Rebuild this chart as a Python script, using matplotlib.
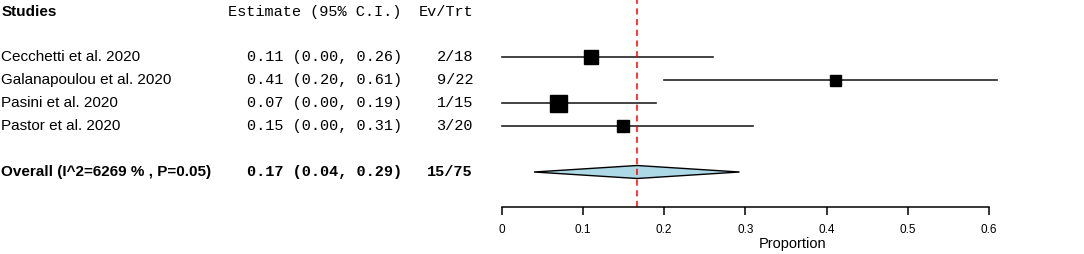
import numpy as np
import matplotlib.pyplot as plt
import matplotlib.transforms as mtransforms
from matplotlib.patches import Polygon

studies = ['Cecchetti et al. 2020', 'Galanapoulou et al. 2020', 'Pasini et al. 2020', 'Pastor et al. 2020']
est = [0.11, 0.41, 0.07, 0.15]
lo = [0.00, 0.20, 0.00, 0.00]
hi = [0.26, 0.61, 0.19, 0.31]
events = [2, 9, 1, 3]
totals = [18, 22, 15, 20]
box_px = [14, 11, 17, 12]   # box size (study weight)

overall_label = 'Overall (I^2=6269 % , P=0.05)'
overall_est = 0.167
overall_lo = 0.04
overall_hi = 0.293
overall_ev = 15
overall_tot = 75

ticks = [0, 0.1, 0.2, 0.3, 0.4, 0.5, 0.6]

W, H = 1084, 254
fig = plt.figure(figsize=(W / 100, H / 100), dpi=100)

# plot area: x=0 at 501.5px, 0.1 per 81.25px; axis line at 207px from top
x0_px, ppu = 501.5, 812.5
axis_px = 207
ax = fig.add_axes([x0_px / W, (H - axis_px) / H, (W - x0_px) / W, axis_px / H])
ax.set_xlim(0, (W - x0_px) / ppu)
ax.set_ylim(axis_px, 0)

row_y = [57, 80, 103, 126]
over_y = 172
head_y = 12

for sp in ['top', 'right', 'left']:
    ax.spines[sp].set_visible(False)
ax.spines['bottom'].set_bounds(0, 0.6)
ax.spines['bottom'].set_linewidth(1.1)
ax.set_yticks([])
ax.set_xticks(ticks)
ax.set_xticklabels(['0' if t == 0 else f'{t:g}' for t in ticks], fontsize=8.5, family='Liberation Sans')
ax.tick_params(axis='x', direction='out', length=6, width=1.1, pad=6)
ax.set_xlabel('Proportion', fontsize=10.5, family='Liberation Sans', labelpad=1)

# CI lines and boxes
for i in range(len(studies)):
    ax.plot([lo[i], hi[i]], [row_y[i], row_y[i]], color='#222222', lw=1.2, clip_on=False)
    ax.plot(est[i], row_y[i], marker='s', color='black', markersize=box_px[i] * 0.72, clip_on=False)

# overall diamond
dh = 6.5
diamond = Polygon([[overall_lo, over_y], [overall_est, over_y - dh], [overall_hi, over_y], [overall_est, over_y + dh]],
                  closed=True, facecolor='#add8e6', edgecolor='black', lw=1)
ax.add_patch(diamond)

ax.axvline(overall_est, color='red', ls=(0, (4, 3)), lw=1.1)

# text columns
tr = mtransforms.blended_transform_factory(fig.transFigure, ax.transData)
sans = 'Liberation Sans'
mono = 'Liberation Mono'
ax.text(2 / W, head_y, 'Studies', transform=tr, fontsize=11, family=sans, weight='bold', va='center', clip_on=False)
ax.text(228 / W, head_y, 'Estimate (95% C.I.)', transform=tr, fontsize=11, family=mono, va='center', clip_on=False)
ax.text(419 / W, head_y, 'Ev/Trt', transform=tr, fontsize=11, family=mono, va='center', clip_on=False)

for i in range(len(studies)):
    ax.text(1 / W, row_y[i], studies[i], transform=tr, fontsize=11, family=sans, va='center', clip_on=False)
    ax.text(402 / W, row_y[i], f'{est[i]:.2f} ({lo[i]:.2f}, {hi[i]:.2f})', transform=tr, fontsize=11,
            family=mono, ha='right', va='center', clip_on=False)
    ax.text(473 / W, row_y[i], f'{events[i]}/{totals[i]}', transform=tr, fontsize=11,
            family=mono, ha='right', va='center', clip_on=False)

ax.text(1 / W, over_y, overall_label, transform=tr, fontsize=11, family=sans, weight='bold', va='center', clip_on=False)
ax.text(402 / W, over_y, f'{overall_est:.2f} ({overall_lo:.2f}, {overall_hi:.2f})', transform=tr, fontsize=11,
        family=mono, weight='bold', ha='right', va='center', clip_on=False)
ax.text(473 / W, over_y, f'{overall_ev}/{overall_tot}', transform=tr, fontsize=11,
        family=mono, weight='bold', ha='right', va='center', clip_on=False)

fig.savefig('out.png', dpi=100)
